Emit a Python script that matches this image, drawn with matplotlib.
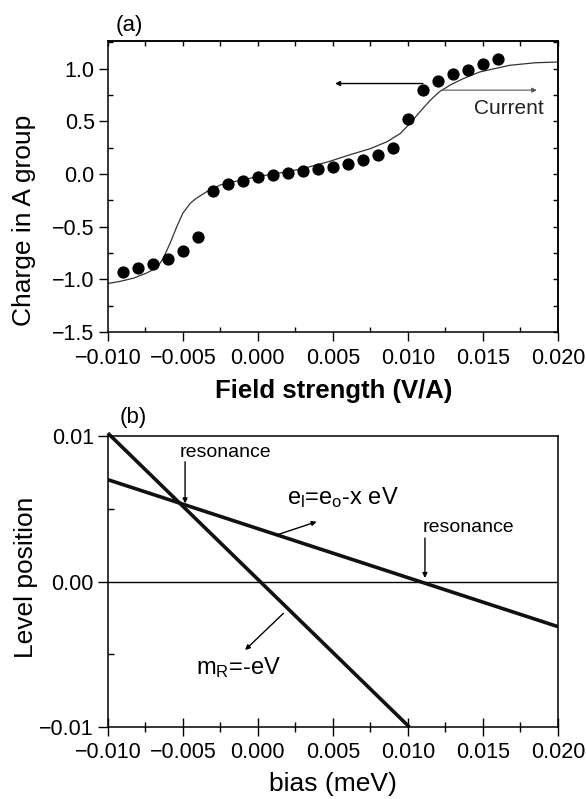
import matplotlib
matplotlib.use('Agg')
import matplotlib.pyplot as plt
import matplotlib.ticker as ticker

plt.rcParams['font.family'] = ['Liberation Sans', 'DejaVu Sans']
plt.rcParams['axes.linewidth'] = 1.1

# --- panel (a): charge vs field strength ---
field_dots = [-0.009, -0.008, -0.007, -0.006, -0.005, -0.004, -0.003, -0.002, -0.001,
              0.000, 0.001, 0.002, 0.003, 0.004, 0.005, 0.006, 0.007, 0.008, 0.009,
              0.010, 0.011, 0.012, 0.013, 0.014, 0.015, 0.016]
charge_dots = [-0.93, -0.89, -0.855, -0.805, -0.727, -0.60, -0.159, -0.10, -0.063,
               -0.03, -0.006, 0.013, 0.03, 0.048, 0.07, 0.095, 0.133, 0.18, 0.25,
               0.52, 0.80, 0.88, 0.945, 0.99, 1.04, 1.095]

field_curve = [-0.0100, -0.0092, -0.0083, -0.0074, -0.0067, -0.0063, -0.00585, -0.0054,
               -0.0050, -0.0045, -0.0041, -0.0034, -0.0025, -0.0016, 0.000, 0.0015,
               0.003, 0.0048, 0.0061, 0.0075, 0.0086, 0.0095, 0.0101, 0.0108, 0.0115,
               0.0121, 0.0128, 0.0137, 0.0148, 0.0168, 0.0185, 0.0200]
charge_curve = [-1.04, -1.02, -0.99, -0.94, -0.885, -0.80, -0.657, -0.50,
                -0.373, -0.278, -0.231, -0.168, -0.105, -0.074, -0.025, 0.01,
                0.05, 0.12, 0.18, 0.24, 0.305, 0.384, 0.473, 0.589, 0.70,
                0.779, 0.842, 0.905, 0.968, 1.031, 1.055, 1.062]

# --- panel (b): level positions vs bias ---
bias_mu = [-0.0100, 0.0101]
level_mu = [0.0102, -0.0100]
bias_el = [-0.010, 0.020]
level_el = [0.0070, -0.0031]


def minus_fmt(fmt):
    return ticker.FuncFormatter(lambda v, p: (fmt % v).replace('-', '\u2212'))


fig = plt.figure(figsize=(5.86, 7.99), dpi=100)

ax1 = fig.add_axes([0.184, 0.5845, 0.768, 0.364])
ax1.plot(field_curve, charge_curve, color='#333333', lw=0.9)
ax1.plot(field_dots, charge_dots, 'o', color='black', ms=7.8)
ax1.set_xlim(-0.010, 0.020)
ax1.set_ylim(-1.5, 1.26)
ax1.xaxis.set_major_locator(ticker.MultipleLocator(0.005))
ax1.xaxis.set_minor_locator(ticker.MultipleLocator(0.0025))
ax1.yaxis.set_major_locator(ticker.MultipleLocator(0.5))
ax1.yaxis.set_minor_locator(ticker.MultipleLocator(0.25))
ax1.xaxis.set_major_formatter(minus_fmt('%.3f'))
ax1.yaxis.set_major_formatter(minus_fmt('%.1f'))
ax1.tick_params(which='major', direction='out', length=6.5, width=1, labelsize=15.5, pad=3)
ax1.tick_params(axis='x', which='major', pad=5)
ax1.tick_params(which='minor', direction='in', length=3.5, width=1)
# inward ticks on top and right
sec_x = ax1.secondary_xaxis('top')
sec_x.xaxis.set_major_locator(ticker.MultipleLocator(0.0025))
sec_x.tick_params(direction='in', length=3.5, width=1, labeltop=False)
sec_y = ax1.secondary_yaxis('right')
sec_y.yaxis.set_major_locator(ticker.MultipleLocator(0.25))
sec_y.tick_params(direction='in', length=3.5, width=1, labelright=False)

arrow_k = dict(arrowstyle='-|>', color='black', lw=1.0, mutation_scale=7, shrinkA=0, shrinkB=0)
arrow_g = dict(arrowstyle='-|>', color='#555555', lw=0.8, mutation_scale=7, shrinkA=0, shrinkB=0)
ax1.annotate('', xy=(0.00515, 0.858), xytext=(0.0110, 0.858), arrowprops=arrow_k)
ax1.annotate('', xy=(0.0186, 0.795), xytext=(0.01235, 0.795), arrowprops=arrow_g)
ax1.text(0.01674, 0.624, 'Current', fontsize=15, ha='center', va='center', color='#222222')

fig.text(129 / 586, 1 - 25 / 799, '(a)', fontsize=16, ha='center', va='center')
fig.text(24 / 586, 1 - 220 / 799, 'Charge in A group', fontsize=19, rotation=90,
         ha='center', va='center')
fig.text(334 / 586, 1 - 391 / 799, 'Field strength (V/A)', fontsize=18.5,
         fontweight='bold', ha='center', va='center')

ax2 = fig.add_axes([0.184, 0.0901, 0.768, 0.3642])
ax2.axhline(0.0, color='black', lw=1.0)
ax2.plot(bias_mu, level_mu, color='#111111', lw=2.6, clip_on=False, solid_capstyle='butt')
ax2.plot(bias_el, level_el, color='#111111', lw=2.6, solid_capstyle='butt')
ax2.set_xlim(-0.010, 0.020)
ax2.set_ylim(-0.010, 0.010)
ax2.xaxis.set_major_locator(ticker.MultipleLocator(0.005))
ax2.xaxis.set_minor_locator(ticker.MultipleLocator(0.0025))
ax2.yaxis.set_major_locator(ticker.MultipleLocator(0.01))
ax2.yaxis.set_minor_locator(ticker.MultipleLocator(0.005))
ax2.xaxis.set_major_formatter(minus_fmt('%.3f'))
ax2.yaxis.set_major_formatter(minus_fmt('%.2f'))
ax2.tick_params(axis='x', which='major', direction='inout', length=13, width=1,
                labelsize=15.5, pad=4)
ax2.tick_params(axis='x', which='minor', direction='inout', length=7, width=1)
ax2.tick_params(axis='y', which='major', direction='out', length=7, width=1,
                labelsize=15.5, pad=3)
ax2.tick_params(axis='y', which='minor', direction='in', length=4, width=1)

ax2.annotate('', xy=(-0.00485, 0.00537), xytext=(-0.00485, 0.00823), arrowprops=arrow_k)
ax2.text(-0.00219, 0.00885, 'resonance', fontsize=14, ha='center', va='center')
ax2.annotate('', xy=(0.01114, 0.00024), xytext=(0.01114, 0.00299), arrowprops=arrow_k)
ax2.text(0.01407, 0.00372, 'resonance', fontsize=14, ha='center', va='center')
ax2.annotate('', xy=(0.00392, 0.00411), xytext=(0.00126, 0.0032), arrowprops=arrow_k)
ax2.text(0.00568, 0.0058, r'$\mathregular{e_l}$=$\mathregular{e_o}$-x eV', fontsize=17,
         ha='center', va='center')
ax2.annotate('', xy=(-0.00085, -0.00471), xytext=(0.0017, -0.00219), arrowprops=arrow_k)
ax2.text(-0.00132, -0.0059, r'$\mathregular{m_R}$=-eV', fontsize=17,
         ha='center', va='center')

fig.text(133 / 586, 1 - 418 / 799, '(b)', fontsize=16, ha='center', va='center')
fig.text(26 / 586, 1 - 577 / 799, 'Level position', fontsize=19, rotation=90,
         ha='center', va='center')
fig.text(333 / 586, 1 - 784 / 799, 'bias (meV)', fontsize=19, ha='center', va='center')

fig.savefig('out.png', dpi=100)
